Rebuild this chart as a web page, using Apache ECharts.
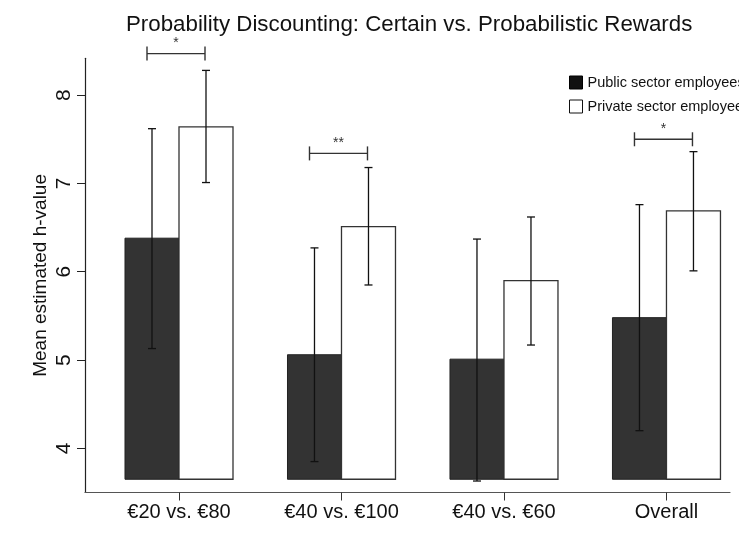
<!DOCTYPE html>
<html>
<head>
<meta charset="utf-8">
<script src="https://cdn.jsdelivr.net/npm/echarts@6/dist/echarts.min.js"></script>
<style>html,body{margin:0;padding:0;background:#fff;}#c{width:739px;height:540px;}</style>
</head>
<body>
<div id="c"></div>
<script>
// ---- data ----
var categories = ['€20 vs. €80', '€40 vs. €100', '€40 vs. €60', 'Overall'];
var seriesNames = ['Public sector employees', 'Private sector employees'];
var publicMean = [6.38, 5.06, 5.01, 5.48];
var publicLow  = [5.13, 3.85, 3.63, 4.20];
var publicHigh = [7.62, 6.27, 6.37, 6.76];
var privateMean = [7.64, 6.51, 5.90, 6.69];
var privateLow  = [7.01, 5.85, 5.17, 6.01];
var privateHigh = [8.28, 7.18, 6.62, 7.36];
var barBase = 3.65;               // bars rise from this value
var sigLevel = [8.47, 7.34, null, 7.50];
var sigLabel = ['*', '**', '', '*'];
var yTicks = [4, 5, 6, 7, 8];

// ---- build ----
var FONT = 'Liberation Sans, Arial, sans-serif';
var BAR_W = 54;
var idx = categories.map(function (c, i) { return i; });

function barData(mean, low, high) {
  return idx.map(function (i) { return [i, mean[i], low[i], high[i]]; });
}
var sigData = [];
idx.forEach(function (i) {
  if (sigLevel[i] != null) sigData.push([i, sigLevel[i], sigLabel[i]]);
});

function makeBarRender(side, fill, stroke, bw) {
  return function (params, api) {
    var top = api.coord([api.value(0), api.value(1)]);
    var bot = api.coord([api.value(0), barBase]);
    var lo = api.coord([api.value(0), api.value(2)]);
    var hi = api.coord([api.value(0), api.value(3)]);
    var cx = top[0] + side * BAR_W / 2;
    var cap = 4;
    var st = { stroke: '#111', lineWidth: 1.3 };
    return { type: 'group', children: [
      { type: 'rect', shape: { x: cx - BAR_W / 2, y: top[1], width: BAR_W, height: bot[1] - top[1] },
        style: { fill: fill, stroke: stroke, lineWidth: bw } },
      { type: 'line', shape: { x1: cx, y1: lo[1], x2: cx, y2: hi[1] }, style: st },
      { type: 'line', shape: { x1: cx - cap, y1: lo[1], x2: cx + cap, y2: lo[1] }, style: st },
      { type: 'line', shape: { x1: cx - cap, y1: hi[1], x2: cx + cap, y2: hi[1] }, style: st }
    ]};
  };
}

var chart = echarts.init(document.getElementById('c'), null, { renderer: 'canvas' });
var option = {
  animation: false,
  backgroundColor: '#fff',
  textStyle: { fontFamily: FONT },
  title: {
    text: 'Probability Discounting: Certain vs. Probabilistic Rewards',
    left: 121, top: 9,
    textStyle: { fontFamily: FONT, fontSize: 22.3, fontWeight: 'normal', color: '#111' }
  },
  legend: {
    orient: 'vertical', left: 564, top: 70,
    itemWidth: 13, itemHeight: 13, itemGap: 9,
    textStyle: { fontFamily: FONT, fontSize: 14.5, color: '#111' },
    data: [
      { name: seriesNames[0], icon: 'rect', itemStyle: { color: '#111', borderColor: '#000', borderWidth: 1 } },
      { name: seriesNames[1], icon: 'rect', itemStyle: { color: '#fff', borderColor: '#111', borderWidth: 1 } }
    ]
  },
  grid: { left: 85, right: 9, top: 58.3, bottom: 47.5, containLabel: false },
  xAxis: {
    type: 'value', min: -0.5785, max: 3.391,
    axisLine: { show: true, onZero: false, lineStyle: { color: '#555', width: 1.2 } },
    axisTick: { show: true, length: 8, customValues: idx, lineStyle: { color: '#333', width: 1 } },
    axisLabel: {
      customValues: idx, margin: 10, fontSize: 20, color: '#111', fontFamily: FONT,
      formatter: function (v) { return categories[Math.round(v)]; }
    },
    splitLine: { show: false }
  },
  yAxis: {
    type: 'value', min: 3.5, max: 8.417,
    name: 'Mean estimated h-value', nameLocation: 'middle', nameGap: 44, nameMoveOverlap: false,
    nameTextStyle: { fontFamily: FONT, fontSize: 19, color: '#111', verticalAlign: 'middle' },
    axisLine: { show: true, onZero: false, lineStyle: { color: '#222', width: 1.2 } },
    axisTick: { show: true, length: 8, customValues: yTicks, lineStyle: { color: '#222', width: 1 } },
    axisLabel: { customValues: yTicks, rotate: 90, margin: 10, fontSize: 21, color: '#111', fontFamily: FONT },
    splitLine: { show: false }
  },
  series: [
    {
      name: seriesNames[0], type: 'custom', z: 3,
      itemStyle: { color: '#111', borderColor: '#000' },
      encode: { x: 0, y: [1, 2, 3] },
      data: barData(publicMean, publicLow, publicHigh),
      renderItem: makeBarRender(-1, '#333333', '#222', 1)
    },
    {
      name: seriesNames[1], type: 'custom', z: 3,
      itemStyle: { color: '#fff', borderColor: '#111' },
      encode: { x: 0, y: [1, 2, 3] },
      data: barData(privateMean, privateLow, privateHigh),
      renderItem: makeBarRender(1, '#ffffff', '#333', 1.3)
    },
    {
      name: 'sig', type: 'custom', silent: true, z: 5, clip: false,
      encode: { x: 0, y: 1 },
      data: sigData,
      renderItem: function (params, api) {
        var p = api.coord([api.value(0), api.value(1)]);
        var x1 = p[0] - 32, x2 = p[0] + 26, y = p[1], t = 7;
        var st = { stroke: '#333', lineWidth: 1.4 };
        return { type: 'group', children: [
          { type: 'line', shape: { x1: x1, y1: y, x2: x2, y2: y }, style: st },
          { type: 'line', shape: { x1: x1, y1: y - t, x2: x1, y2: y + t }, style: st },
          { type: 'line', shape: { x1: x2, y1: y - t, x2: x2, y2: y + t }, style: st },
          { type: 'text', style: { text: sigData[params.dataIndex][2], x: (x1 + x2) / 2, y: y - 3,
              align: 'center', verticalAlign: 'bottom', fontSize: 14, fontFamily: FONT, fill: '#333' } }
        ]};
      }
    }
  ]
};
chart.setOption(option);
</script>
</body>
</html>
